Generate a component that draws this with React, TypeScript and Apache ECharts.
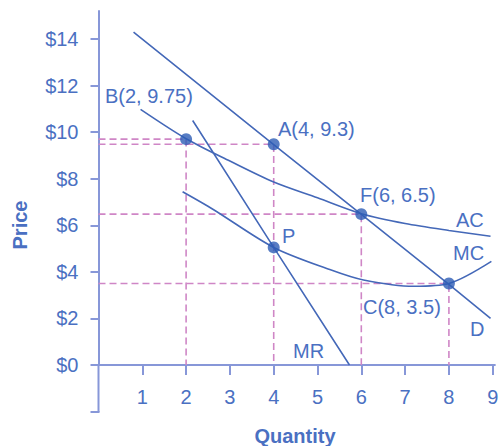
import React, { useEffect, useRef } from "react";
import * as echarts from "echarts";

// Axis ticks / labels
const yTickValues = [0, 2, 4, 6, 8, 10, 12, 14];
const yLabelValues = [0, 2, 4, 6, 8, 10, 12, 14];
const xTickValues = [1, 2, 3, 4, 5, 6, 7, 8, 9];

// Curves (quantity, price)
const demandCurve = [[0.8, 14.3], [4, 9.47], [6, 6.47], [8, 3.46], [8.95, 2.0]];
const mrCurve = [[2.15, 10.5], [4, 5.05], [5.73, 0]];
const acCurve = [[0.96, 10.98], [2, 9.72], [3, 8.76], [4, 7.86], [5, 7.18], [6, 6.5], [7, 6.08], [8, 5.78], [8.95, 5.53]];
const mcCurve = [[1.92, 7.44], [2.62, 6.68], [4, 5.05], [5.28, 4.1], [6.05, 3.65], [7.2, 3.38], [8, 3.5], [8.97, 4.45]];

// Key points
const keyPoints = [[2, 9.7], [4, 9.48], [6, 6.48], [8, 3.5], [4, 5.05]];

// Dashed guide lines
const guideB = [[0, 9.7], [2, 9.7], [2, 0]];
const guideA = [[0, 9.48], [4, 9.48], [4, 0]];
const guideF = [[0, 6.48], [6, 6.48], [6, 0]];
const guideC = [[0, 3.5], [8, 3.5], [8, 0]];

const FONT = "'Liberation Sans', Arial, sans-serif";
const AXIS = "#8797d8";
const LABEL = "#4a70c2";
const CURVE = "#4468b8";
const DOT = "#2d5db5";
const DASH = "#cf86c6";

const GRID_LEFT = 98.5;
const GRID_BOTTOM_Y = 365;

export default function App() {
  const ref = useRef<HTMLDivElement>(null);
  useEffect(() => {
    const chart = echarts.init(ref.current!, null, { renderer: "svg" });
    const curve = (name: string, data: number[][], smooth: number | boolean) => ({
      name,
      type: "line",
      data,
      smooth,
      symbol: "none",
      showSymbol: false,
      lineStyle: { color: CURVE, width: 1.6 },
      z: 3,
    });
    const guide = (data: number[][]) => ({
      type: "line",
      data,
      symbol: "none",
      showSymbol: false,
      lineStyle: { color: DASH, width: 1.6, type: [7, 4] },
      z: 2,
    });
    const txt = (text: string, x: number, y: number, size = 20, align = "left", weight = "normal", rotation = 0) => ({
      type: "text",
      x,
      y,
      rotation,
      z: 10,
      style: {
        text,
        fill: LABEL,
        font: `${weight} ${size}px ${FONT}`,
        align,
        textAlign: align,
        verticalAlign: "middle",
        textVerticalAlign: "middle",
      },
    });
    chart.setOption({
      animation: false,
      grid: { left: GRID_LEFT, right: 4.1, top: 11.1, bottom: 446 - GRID_BOTTOM_Y, containLabel: false, outerBoundsMode: "none" },
      xAxis: {
        type: "value",
        min: 0,
        max: 9.05,
        splitLine: { show: false },
        axisLine: { show: true, onZero: false, lineStyle: { color: AXIS, width: 2 } },
        axisTick: { show: true, customValues: xTickValues, length: 10, lineStyle: { color: AXIS, width: 2 } },
        axisLabel: { customValues: xTickValues, margin: 22, color: LABEL, fontSize: 20, fontFamily: FONT },
      },
      yAxis: {
        type: "value",
        min: 0,
        max: 15.2,
        splitLine: { show: false },
        axisLine: { show: true, onZero: false, lineStyle: { color: AXIS, width: 2 } },
        axisTick: { show: true, customValues: yTickValues, length: 8, lineStyle: { color: AXIS, width: 2 } },
        axisLabel: {
          customValues: yLabelValues,
          margin: 20,
          color: LABEL,
          fontSize: 20,
          fontFamily: FONT,
          formatter: (v: number) => "$" + v,
        },
      },
      series: [
        guide(guideB),
        guide(guideA),
        guide(guideF),
        guide(guideC),
        curve("D", demandCurve, false),
        curve("MR", mrCurve, false),
        curve("AC", acCurve, 0.3),
        curve("MC", mcCurve, 0.3),
        {
          type: "scatter",
          data: keyPoints,
          symbolSize: 12,
          itemStyle: { color: DOT },
          z: 5,
        },
      ],
      graphic: [
        // extension of the price axis below the quantity axis, ending in a tick
        {
          type: "line",
          shape: { x1: GRID_LEFT, y1: GRID_BOTTOM_Y, x2: GRID_LEFT, y2: 412 },
          style: { stroke: AXIS, lineWidth: 2 },
          z: 1,
        },
        {
          type: "line",
          shape: { x1: GRID_LEFT - 8, y1: 412, x2: GRID_LEFT + 1, y2: 412 },
          style: { stroke: AXIS, lineWidth: 2 },
          z: 1,
        },
        txt("B(2, 9.75)", 105, 96),
        txt("A(4, 9.3)", 278, 129),
        txt("F(6, 6.5)", 360, 195),
        txt("AC", 456, 220),
        txt("MC", 453, 252.5),
        txt("P", 282, 235.5),
        txt("C(8, 3.5)", 363, 306.5),
        txt("D", 470, 329),
        txt("MR", 293, 351),
        txt("Price", 20, 225, 20, "center", "bold", Math.PI / 2),
        txt("Quantity", 295, 436, 20, "center", "bold"),
      ],
    });
    return () => chart.dispose();
  }, []);
  return <div ref={ref} style={{ position: "absolute", left: 0, top: 0, width: 499, height: 446 }} />;
}
